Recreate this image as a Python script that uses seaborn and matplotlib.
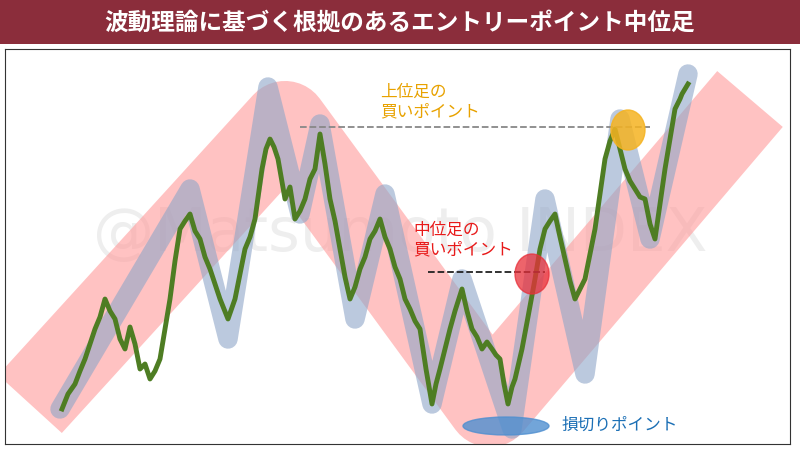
import matplotlib.pyplot as plt
import seaborn as sns
from matplotlib.patches import Ellipse

plt.rcParams['font.family'] = 'Noto Sans CJK JP'

# 価格(緑線) - 画像上のピクセル座標で読み取り
price_x = [62, 68, 75, 80, 85, 90, 95, 100, 105, 110, 115, 120, 125, 130, 135, 140, 145, 150, 155, 160,
           165, 170, 175, 180, 185, 190, 195, 200, 205, 210, 215, 220, 228, 235,
           240, 245, 250, 255, 262, 266, 270, 274, 278, 285, 290, 295, 300, 305, 310, 315, 320, 325, 330,
           335, 340, 345, 350, 355, 360, 365, 370, 375, 380, 385, 390, 395, 400,
           405, 410, 415, 420, 426, 432, 436, 440, 445, 450, 455, 462, 467, 472, 477, 482, 487, 492, 496,
           500, 504, 508, 512, 515, 522, 528, 535, 540, 545, 550, 555, 560, 565, 570, 575,
           580, 585, 590, 595, 600, 605, 610, 615, 620, 625, 630, 635, 640, 645, 650, 655, 660, 665, 670,
           675, 680, 682, 688]
price_y = [410, 395, 385, 372, 360, 345, 330, 318, 300, 312, 320, 340, 350, 328, 345, 370, 365, 380, 372, 360,
           330, 300, 262, 230, 222, 215, 232, 240, 258, 270, 285, 300, 320, 300,
           275, 250, 238, 220, 170, 150, 140, 148, 160, 200, 188, 220, 212, 200, 180, 170, 135, 165, 200,
           222, 250, 278, 300, 288, 270, 258, 240, 232, 220, 238, 250, 268, 280,
           300, 310, 322, 330, 370, 405, 385, 370, 350, 330, 312, 290, 312, 330, 338, 350, 343, 350, 356,
           360, 385, 405, 388, 380, 350, 318, 280, 250, 230, 222, 215, 238, 260, 282, 300,
           290, 280, 255, 230, 195, 160, 142, 130, 150, 170, 182, 190, 198, 200, 225, 240, 205, 170, 140,
           110, 100, 95, 85]

# 波動(青い帯)
wave_x = [60, 190, 228, 268, 300, 320, 355, 385, 432, 462, 512, 545, 585, 620, 650, 688]
wave_y = [410, 190, 340, 88, 215, 125, 320, 195, 405, 280, 430, 200, 375, 120, 240, 75]

# 大きな流れ(ピンクの帯)
trend_x = [30, 285, 490, 750]
trend_y = [405, 125, 405, 100]

fig = plt.figure(figsize=(8, 4.77), dpi=100)
fig.patch.set_facecolor('white')

# タイトルバー
bar = fig.add_axes([0, 1 - 45 / 477, 1, 45 / 477])
bar.set_facecolor('#8b2d3b')
bar.set_xticks([]); bar.set_yticks([])
for s in bar.spines.values():
    s.set_visible(False)
bar.text(0.5, 0.5, '波動理論に基づく根拠のあるエントリーポイント中位足', color='white',
         fontsize=17, fontweight='bold', ha='center', va='center')

ax = fig.add_axes([5 / 800, 1 - 445 / 477, 785 / 800, 395 / 477])
ax.set_xlim(5, 790)
ax.set_ylim(445, 50)
ax.set_xticks([]); ax.set_yticks([])
for s in ax.spines.values():
    s.set_color('#333333'); s.set_linewidth(0.8)

ax.text(400, 235, '@Matsumoto INDEX', fontsize=44, color='#eeeeee', ha='center', va='center',
        family='DejaVu Sans', zorder=0)

sns.lineplot(x=trend_x, y=trend_y, sort=False, ax=ax, color='#ff9a9a', alpha=0.6,
             linewidth=62, solid_joinstyle='round', solid_capstyle='butt', zorder=1)
sns.lineplot(x=wave_x, y=wave_y, sort=False, ax=ax, color='#8fa6c8', alpha=0.6,
             linewidth=14, solid_joinstyle='round', solid_capstyle='round', zorder=2)
sns.lineplot(x=price_x, y=price_y, sort=False, ax=ax, color='#4e7d23',
             linewidth=3.5, zorder=3)

ax.plot([300, 650], [128, 128], ls='--', color='#888888', lw=1.3, zorder=4)
ax.plot([428, 545], [273, 273], ls='--', color='#222222', lw=1.3, zorder=4)

ax.add_patch(Ellipse((628, 131), 34, 40, color='#f5b321', alpha=0.85, zorder=5))
ax.add_patch(Ellipse((532, 275), 34, 40, color='#e8303a', alpha=0.75, zorder=5))
ax.add_patch(Ellipse((506, 427), 86, 18, color='#4f8fd0', alpha=0.8, zorder=5))

ax.text(380, 102, '上位足の\n買いポイント', color='#e8a200', fontsize=12, va='center', linespacing=1.2)
ax.text(413, 240, '中位足の\n買いポイント', color='#e81a1a', fontsize=12, va='center', linespacing=1.2)
ax.text(562, 425, '損切りポイント', color='#1b6fb5', fontsize=12, va='center')

fig.savefig('out.png', dpi=100)
